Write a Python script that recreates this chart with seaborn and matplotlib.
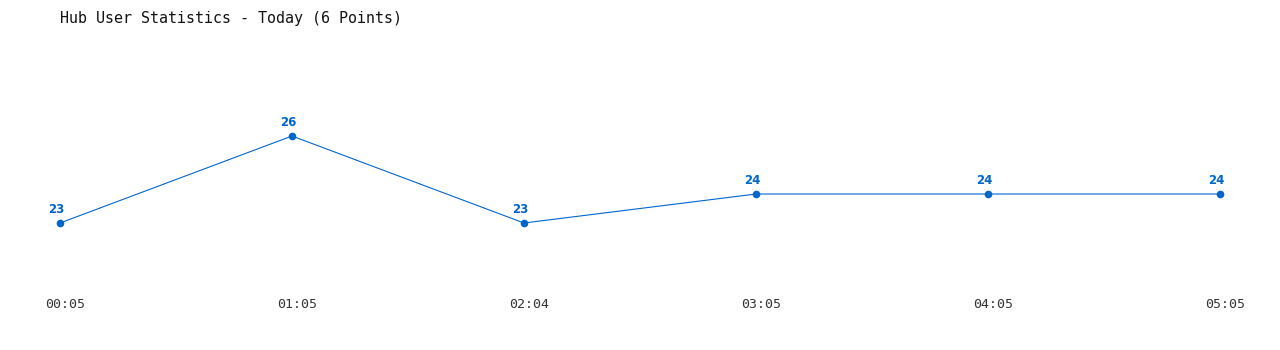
import matplotlib
matplotlib.use("Agg")
import matplotlib.pyplot as plt
import matplotlib.transforms as mtrans
import seaborn as sns
import pandas as pd

times = ["00:05", "01:05", "02:04", "03:05", "04:05", "05:05"]
users = [23, 26, 23, 24, 24, 24]
title = "Hub User Statistics - Today (6 Points)"

sns.set_style("white")
plt.rcParams['font.family'] = ['DejaVu Sans Mono', 'DejaVu Sans']

df = pd.DataFrame({"pos": range(len(times)), "users": users})

W, H = 1280, 350
fig = plt.figure(figsize=(W / 100, H / 100), dpi=100)
ax = fig.add_axes([60 / W, 1 - 290 / H, 1160 / W, 250 / H])

color = "#0066cc"
sns.lineplot(data=df, x="pos", y="users", ax=ax, color=color, linewidth=0.8,
             marker="o", markersize=5.5, markeredgewidth=0, clip_on=False)

for x, v in zip(df["pos"], df["users"]):
    ax.annotate(str(v), (x, v), xytext=(-3, 5), textcoords="offset points",
                ha="center", va="bottom", color=color, fontsize=8.5,
                fontweight="bold", family=["DejaVu Sans", "DejaVu Sans Mono"])

ax.set_xlim(0, len(times) - 1)
ax.set_ylim((890 - 290) / 29, (890 - 40) / 29)
ax.set_xticks(list(df["pos"]))
ax.set_xticklabels(times)
ax.set_yticks([])
ax.tick_params(axis="x", length=0, pad=6, labelsize=9.5, colors="#333333")
offset = mtrans.ScaledTranslation(5 / 100, 0, fig.dpi_scale_trans)
for lab in ax.get_xticklabels():
    lab.set_transform(lab.get_transform() + offset)
ax.set_xlabel("")
ax.set_ylabel("")
for s in ax.spines.values():
    s.set_visible(False)

fig.text(60 / W, 1 - 18 / H, title, ha="left", va="center", fontsize=10.8,
         fontweight="normal", color="#111111")

fig.savefig("out.png", dpi=100, facecolor="white")
